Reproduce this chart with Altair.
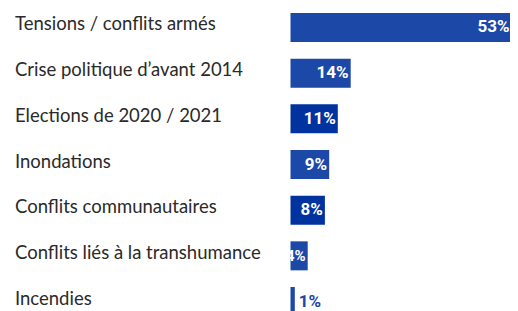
import altair as alt
import pandas as pd

categories = [
    "Tensions / conflits armés",
    "Crise politique d’avant 2014",
    "Elections de 2020 / 2021",
    "Inondations",
    "Conflits communautaires",
    "Conflits liés à la transhumance",
    "Incendies",
]
values = [53, 14, 11, 9, 8, 4, 1]
labels = ["53%", "14%", "11%", "9%", "8%", "4%", "1%"]

df = pd.DataFrame({"cat": categories, "val": values, "lab": labels})

dark_cats = ["Elections de 2020 / 2021", "Conflits communautaires"]

y = alt.Y("cat:N", sort=categories, axis=None,
          scale=alt.Scale(paddingInner=0.365, paddingOuter=0.109))
# bars: 4.3 px per percentage point, starting at 282.5
xs_bar = alt.Scale(domain=[0, 53], range=[282.5, 510.4])
# labels: same slope, but clamped so the widest label stays inside the view
xs_lab = alt.Scale(domain=[0, 51.4], range=[282.5, 503.5], clamp=True)

base = alt.Chart(df)

bars = base.mark_bar(cornerRadius=0).encode(
    y=y,
    x=alt.X("val:Q", scale=xs_bar, axis=None),
    x2=alt.value(282.5),
    color=alt.condition(
        alt.FieldOneOfPredicate(field="cat", oneOf=dark_cats),
        alt.value("#0033a0"),
        alt.value("#1c48a8"),
    ),
)

inside = base.transform_filter("datum.val >= 4").mark_text(
    align="right", baseline="middle", dx=-2, font="Roboto",
    fontWeight="bold", color="white"
).encode(
    y=y,
    x=alt.X("val:Q", scale=xs_lab, axis=None),
    text="lab:N",
    size=alt.condition("datum.val < 5", alt.value(15), alt.value(17)),
)

outside = base.transform_filter("datum.val < 4").mark_text(
    align="left", baseline="middle", dx=4, font="Roboto",
    fontWeight="bold", fontSize=17, color="#1c48a8"
).encode(y=y, x=alt.X("val:Q", scale=xs_lab, axis=None), text="lab:N")

names = base.mark_text(
    align="left", baseline="middle", dy=-3, font="Lato",
    fontSize=18.5, color="#2a2a2a"
).encode(y=y, x=alt.value(7), text="cat:N")

chart = alt.layer(bars, inside, outside, names).resolve_scale(
    x="independent"
).properties(
    width=502, height=313, padding=0, autosize="none"
).configure_view(stroke=None)

chart.save("out.html", embed_options={"renderer": "svg", "actions": False})
